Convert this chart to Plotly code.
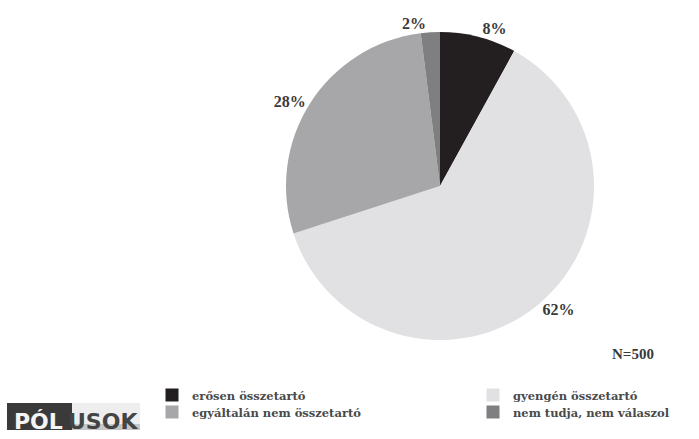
import plotly.graph_objects as go

# Survey answers: cohesion of the community (N=500)
categories = ["erősen összetartó", "gyengén összetartó",
              "egyáltalán nem összetartó", "nem tudja, nem válaszol"]
shares = [8, 62, 28, 2]
sample_size = 500

colors = ["#231f20", "#e1e1e3", "#a7a7a9", "#7f7f81"]

W, H = 699, 439
cx, cy, r = 440, 186, 154  # pie centre and radius in pixels

SERIF = "Liberation Serif"

fig = go.Figure()

fig.add_trace(go.Pie(
    labels=categories,
    values=shares,
    sort=False,
    direction="clockwise",
    rotation=0,
    marker=dict(colors=colors, line=dict(width=0)),
    texttemplate="<b>%{value}%</b>",
    textposition="outside",
    outsidetextfont=dict(family=SERIF, size=16, color="#3a3a3a"),
    automargin=False,
    showlegend=False,
    hoverinfo="label+percent",
    domain=dict(x=[(cx - r) / W, (cx + r) / W],
                y=[1 - (cy + r) / H, 1 - (cy - r) / H]),
))

# legend keys laid out in two columns, one legend box per entry
legend_spots = [(152, 395), (473, 395), (152, 412), (473, 412)]
legend_layout = {}
for i, (name, col) in enumerate(zip(categories, colors)):
    key = "legend" if i == 0 else f"legend{i + 1}"
    fig.add_trace(go.Scatter(
        x=[None], y=[None], mode="markers", name=f"<b>{name}</b>",
        marker=dict(symbol="square", size=13, color=col),
        legend=key, hoverinfo="skip",
    ))
    lx, ly = legend_spots[i]
    legend_layout[key] = dict(
        x=lx / W, xanchor="left", y=1 - ly / H, yanchor="middle",
        bgcolor="rgba(0,0,0,0)", borderwidth=0,
        itemsizing="trace",
        font=dict(family="DejaVu Serif", size=11.5, color="#4a4a4a"),
    )

fig.update_layout(
    width=W, height=H,
    margin=dict(l=0, r=0, t=0, b=0),
    paper_bgcolor="white",
    plot_bgcolor="white",
    showlegend=True,
    xaxis=dict(visible=False),
    yaxis=dict(visible=False),
    annotations=[
        dict(text=f"<b>N={sample_size}</b>", x=633 / W, y=1 - 354 / H,
             xref="paper", yref="paper", xanchor="center", yanchor="middle",
             showarrow=False,
             font=dict(family=SERIF, size=15, color="#3a3a3a")),
        dict(text="<b>PÓL</b>", x=38 / W, y=1 - 421.5 / H,
             xref="paper", yref="paper", xanchor="center", yanchor="middle",
             showarrow=False,
             font=dict(family="DejaVu Sans", size=22, color="#f4f4f4")),
        dict(text="<b>USOK</b>", x=103 / W, y=1 - 421.5 / H,
             xref="paper", yref="paper", xanchor="center", yanchor="middle",
             showarrow=False,
             font=dict(family="DejaVu Sans", size=22, color="#444444")),
    ],
    shapes=[
        # logo backdrop: dark block on the left, light band on the right
        dict(type="rect", xref="paper", yref="paper",
             x0=72 / W, x1=140 / W, y0=1 - 430 / H, y1=1 - 403 / H,
             fillcolor="#eeeeee", line=dict(width=0), layer="below"),
        dict(type="rect", xref="paper", yref="paper",
             x0=72 / W, x1=140 / W, y0=1 - 430 / H, y1=1 - 424 / H,
             fillcolor="#c6c6c6", line=dict(width=0), layer="below"),
        dict(type="rect", xref="paper", yref="paper",
             x0=7 / W, x1=72 / W, y0=1 - 430 / H, y1=1 - 403 / H,
             fillcolor="#3a3a3a", line=dict(width=0), layer="below"),
    ],
    **legend_layout,
)

fig.write_html("out.html")
